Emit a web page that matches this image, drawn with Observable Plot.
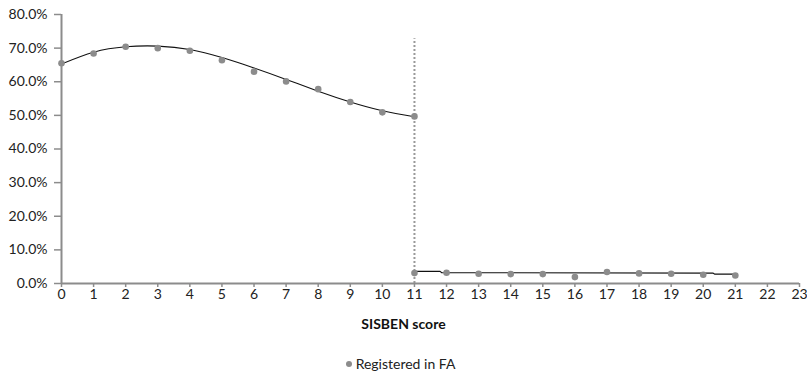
<!DOCTYPE html>
<html>
<head>
<meta charset="utf-8">
<script src="https://cdn.jsdelivr.net/npm/d3@7"></script>
<script src="https://cdn.jsdelivr.net/npm/@observablehq/plot@0.6"></script>
<style>
  html, body { margin: 0; padding: 0; background: #fff; }
  body { width: 807px; height: 384px; overflow: hidden; font-family: Lato, "Open Sans", sans-serif; }
  #legend { text-align: center; font-size: 14px; color: #222; margin-top: 11px; padding-right: 6px; line-height: 16px; }
  #legend .dot { display: inline-block; width: 6px; height: 6px; border-radius: 50%; background: #8c8c8c; margin-right: 4px; vertical-align: middle; position: relative; top: -1px; }
</style>
</head>
<body>
<div id="chart"></div>
<div id="legend"><span class="dot"></span>Registered in FA</div>
<script>
// SISBEN scores and share registered in FA (observed points)
const scores = [0,1,2,3,4,5,6,7,8,9,10,11,11,12,13,14,15,16,17,18,19,20,21];
const registered = [65.5,68.4,70.4,70.0,69.2,66.4,63.0,60.1,57.8,54.0,50.9,49.7,
                    3.1,3.2,2.9,2.8,2.8,1.9,3.4,3.0,2.9,2.6,2.4];
// Fitted curve, left of cutoff
const fitLeftX = [0,1,2,3,4,5,6,7,8,9,10,11];
const fitLeftY = [65.3,68.8,70.4,70.6,69.6,67.2,64.1,60.7,57.2,54.0,51.4,49.6];
// Fitted curve, right of cutoff
const fitRightX = [11,11.8,11.85,20.3,20.35,21];
const fitRightY = [3.6,3.6,3.2,3.1,2.8,2.8];
// Cutoff
const cutoff = 11;
const cutoffTop = 72.8;
// Tick labels
const xTicks = d3.range(0, 24);
const yTicks = [0,10,20,30,40,50,60,70,80];

const pts = scores.map((s, i) => ({x: s, y: registered[i]}));
const fitL = fitLeftX.map((s, i) => ({x: s, y: fitLeftY[i]}));
const fitR = fitRightX.map((s, i) => ({x: s, y: fitRightY[i]}));

const axisColor = "#8c8c8c";
const chart = Plot.plot({
  width: 807,
  height: 345,
  marginLeft: 61,
  marginRight: 8,
  marginTop: 14,
  marginBottom: 62,
  style: {fontFamily: "Lato, 'Open Sans', sans-serif", fontSize: "14px", color: "#222", background: "#fff"},
  x: {domain: [0, 23]},
  y: {domain: [0, 80]},
  marks: [
    Plot.ruleX([cutoff], {y1: 0, y2: cutoffTop, stroke: "#999", strokeWidth: 2, strokeDasharray: "2,2"}),
    Plot.line(fitL, {x: "x", y: "y", curve: "natural", stroke: "#111", strokeWidth: 1.1}),
    Plot.line(fitR, {x: "x", y: "y", curve: "linear", stroke: "#111", strokeWidth: 1.1}),
    Plot.dot(pts, {x: "x", y: "y", r: 3.3, fill: "#8c8c8c", stroke: "none"}),
    Plot.axisY({ticks: yTicks, tickFormat: d => d.toFixed(1) + "%", tickSize: 7, tickPadding: 7, stroke: axisColor, strokeWidth: 1.5, label: null, fill: "#222"}),
    Plot.axisX({ticks: xTicks, tickFormat: d => String(d), tickSize: 4, tickPadding: 2, stroke: axisColor, strokeWidth: 1.5, label: null, fill: "#222"}),
    Plot.ruleY([0], {stroke: axisColor, strokeWidth: 2}),
    Plot.ruleX([0], {stroke: axisColor, strokeWidth: 2}),
    Plot.text(["SISBEN score"], {frameAnchor: "bottom", dx: -27, dy: 45, fontWeight: "bold", fontSize: 14, fill: "#111"})
  ]
});
document.getElementById("chart").appendChild(chart);
</script>
</body>
</html>
